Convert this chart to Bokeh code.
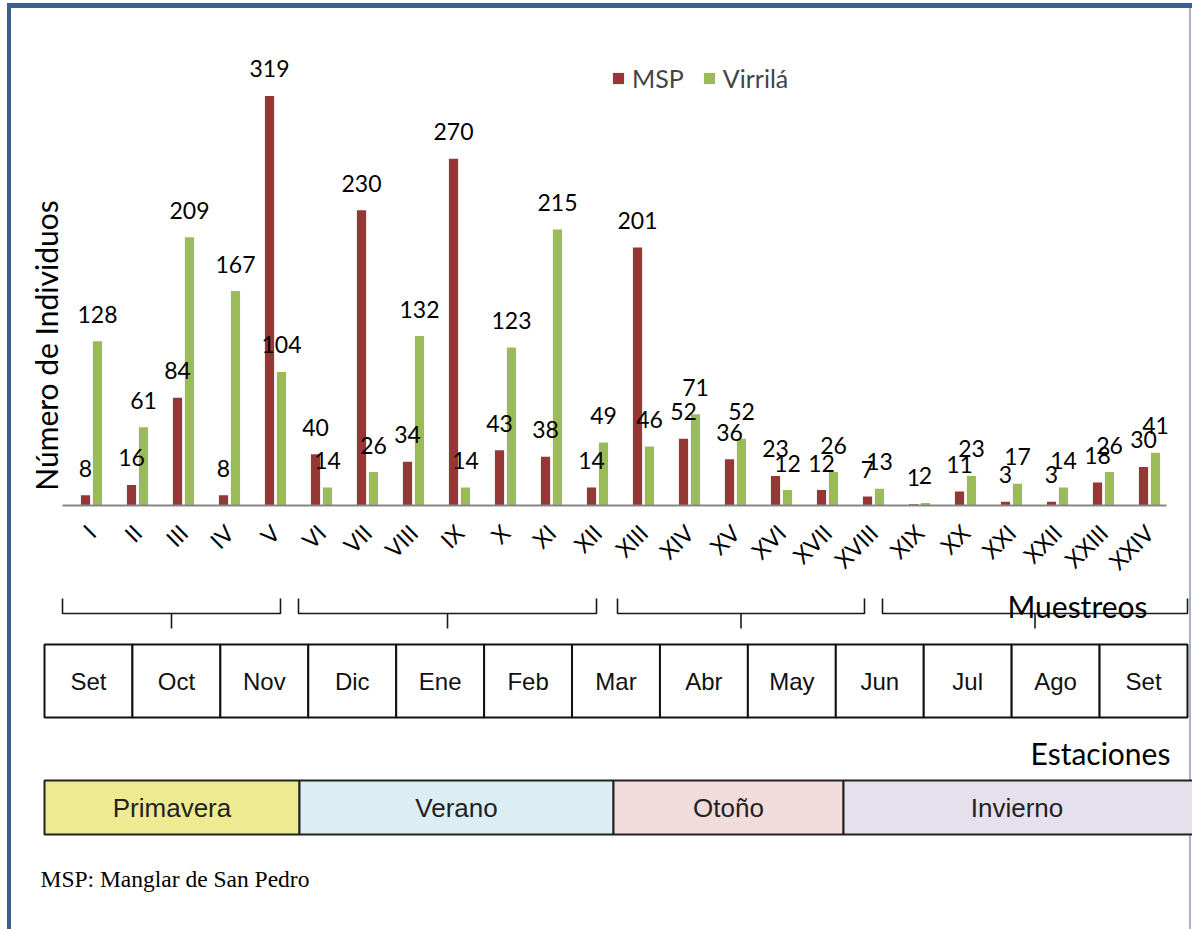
import math
from bokeh.plotting import figure
from bokeh.models import (Range1d, ColumnDataSource, Legend, LegendItem, Label,
                          LinearAxis, FixedTicker)
from bokeh.layouts import column
from bokeh.embed import file_html
from bokeh.resources import INLINE
from bokeh.core.properties import value

# ---------------- data ----------------
samples = ["I", "II", "III", "IV", "V", "VI", "VII", "VIII", "IX", "X", "XI", "XII",
           "XIII", "XIV", "XV", "XVI", "XVII", "XVIII", "XIX", "XX", "XXI", "XXII",
           "XXIII", "XXIV"]
msp = [8, 16, 84, 8, 319, 40, 230, 34, 270, 43, 38, 14,
       201, 52, 36, 23, 12, 7, 1, 11, 3, 3, 18, 30]
virrila = [128, 61, 209, 167, 104, 14, 26, 132, 14, 123, 215, 49,
           46, 71, 52, 12, 26, 13, 2, 23, 17, 14, 26, 41]
months = ["Set", "Oct", "Nov", "Dic", "Ene", "Feb", "Mar", "Abr", "May", "Jun",
          "Jul", "Ago", "Set"]
seasons = ["Primavera", "Verano", "Otoño", "Invierno"]

# ---------------- styles / layout ----------------
MSP_C = "#953735"
VIR_C = "#9BBB59"
SEASON_FILLS = ["#EEEA91", "#DBEEF3", "#F2DCDB", "#E5E0EC"]
LBL_FONT = "Lato"
BORDER_C = "#3C5F8D"

W = 1192
H = 929
HA = 587               # top figure height (page 0 .. 587)
HB = H - HA            # bottom figure height (page 587 .. 929)
BASE_Y = 505           # page y of the value axis baseline
AX_BOTTOM = HA - BASE_Y
CAT_X0 = 68            # page x where the first sample slot starts
CAT_W = 46             # px per sample slot
PX_PER_UNIT = 1.284    # px per individual
DODGE = 0.13
BAR_W = 0.2


def slot(px):
    return (px - CAT_X0) / CAT_W - 0.5


# ---------------- top figure: bars ----------------
idx = list(range(len(samples)))
src = ColumnDataSource(dict(
    x_msp=[i - DODGE for i in idx], x_vir=[i + DODGE for i in idx],
    msp=msp, virrila=virrila,
    msp_lbl=[str(v) for v in msp], vir_lbl=[str(v) for v in virrila]))

p = figure(x_range=Range1d(slot(0), slot(W)),
           y_range=Range1d(0, BASE_Y / PX_PER_UNIT), width=W, height=HA,
           output_backend="svg", toolbar_location=None,
           min_border_left=0, min_border_right=0, min_border_top=0,
           min_border_bottom=AX_BOTTOM, x_axis_location=None, y_axis_location=None,
           outline_line_color=None, background_fill_color=None,
           border_fill_color=None)
p.extra_x_ranges = {"px": Range1d(0, W)}
p.extra_y_ranges = {"px": Range1d(BASE_Y, 0)}
p.grid.visible = False

r1 = p.vbar(x="x_msp", top="msp", width=BAR_W, source=src,
            fill_color=MSP_C, line_color=None)
r2 = p.vbar(x="x_vir", top="virrila", width=BAR_W, source=src,
            fill_color=VIR_C, line_color=None)

p.text(x="x_msp", y="msp", text="msp_lbl", source=src, text_align="center",
       text_baseline="middle", y_offset=-27, text_font=value(LBL_FONT),
       text_font_size="23px", text_color="black")
p.text(x="x_vir", y="virrila", text="vir_lbl", source=src, text_align="center",
       text_baseline="middle", y_offset=-27, text_font=value(LBL_FONT),
       text_font_size="23px", text_color="black")

xa = LinearAxis(ticker=FixedTicker(ticks=idx),
                major_label_overrides={i: s for i, s in zip(idx, samples)},
                bounds=(slot(62), slot(1166)))
xa.major_label_orientation = math.pi / 4
xa.major_label_text_font = LBL_FONT
xa.major_label_text_font_size = "23px"
xa.major_label_text_color = "black"
xa.major_tick_line_color = None
xa.minor_tick_line_color = None
xa.axis_line_color = "#868686"
xa.axis_line_width = 2
xa.major_label_standoff = 17
p.add_layout(xa, "below")

legend = Legend(items=[LegendItem(label="MSP", renderers=[r1]),
                       LegendItem(label="Virrilá", renderers=[r2])],
                orientation="horizontal", location=(611, 412),
                glyph_width=14, glyph_height=14, label_standoff=7, spacing=18,
                padding=0, margin=0, border_line_color=None,
                background_fill_alpha=0,
                label_text_font=LBL_FONT, label_text_font_size="25px")
p.add_layout(legend)

p.add_layout(Label(x=45, y=345, x_range_name="px", y_range_name="px",
                   text="Número de Individuos", angle=math.pi / 2,
                   text_align="center", text_baseline="middle",
                   text_font=LBL_FONT, text_font_size="30px", text_color="black"))

# ---------------- bottom figure: brackets, months, seasons ----------------
q = figure(width=W, height=HB, x_range=Range1d(0, W), y_range=Range1d(H, HA),
           output_backend="svg", toolbar_location=None, min_border=0,
           x_axis_location=None, y_axis_location=None, outline_line_color=None,
           background_fill_color=None, border_fill_color=None)
q.grid.visible = False

# brackets over groups of samples
br_left = [62, 298, 617, 882]
br_right = [280, 596, 864, 1187]
br_top, br_mid, br_tip = 598, 613, 628
xs, ys = [], []
for a, b in zip(br_left, br_right):
    m = (a + b) / 2
    xs += [[a, a, b, b], [m, m]]
    ys += [[br_top, br_mid, br_mid, br_top], [br_mid, br_tip]]
q.multi_line(xs=xs, ys=ys, line_color="#1a1a1a", line_width=1.6)

# month table
m_left, m_right = 44, 1187
m_top, m_bot = 644, 717
mw = (m_right - m_left) / len(months)
ml = [m_left + i * mw for i in range(len(months))]
mr = [x + mw for x in ml]
q.quad(left=ml, right=mr, top=m_top, bottom=m_bot, fill_color="white",
       line_color="#111111", line_width=2)
q.text(x=[(a + b) / 2 for a, b in zip(ml, mr)], y=[(m_top + m_bot) / 2] * len(months),
       text=months, text_align="center", text_baseline="middle",
       text_font=value("Liberation Sans"), text_font_size="24px", text_color="#111111")

# season table
s_left = [44, 299, 613, 843]
s_right = [299, 613, 843, 1196]
s_top, s_bot = 780, 834
q.quad(left=s_left, right=s_right, top=s_top, bottom=s_bot, fill_color=SEASON_FILLS,
       line_color="#222222", line_width=2)
q.text(x=[(a + b) / 2 for a, b in zip(s_left, s_right[:3] + [1190])],
       y=[(s_top + s_bot) / 2] * 4, text=seasons, text_align="center",
       text_baseline="middle", text_font=value("Liberation Sans"),
       text_font_size="26px", text_color="#222222")

q.add_layout(Label(x=1077, y=605, text="Muestreos", text_align="center",
                   text_baseline="middle", text_font=LBL_FONT,
                   text_font_size="30px", text_color="black"))
q.add_layout(Label(x=1100, y=752, text="Estaciones", text_align="center",
                   text_baseline="middle", text_font=LBL_FONT,
                   text_font_size="30px", text_color="black"))
q.add_layout(Label(x=40, y=878, text="MSP: Manglar de San Pedro", text_align="left",
                   text_baseline="middle", text_font="Liberation Serif",
                   text_font_size="23.5px", text_color="black"))

bg = (f"linear-gradient({BORDER_C}, {BORDER_C}) 7px 3px / calc(100% - 7px) 5px no-repeat, "
      f"linear-gradient({BORDER_C}, {BORDER_C}) 7px 3px / 4px 100% no-repeat, "
      f"linear-gradient(#A7B4C6, #A7B4C6) right 1px top 3px / 2px 100% no-repeat, "
      f"#ffffff")
layout = column(p, q, spacing=0, styles={"background": bg})

open("out.html", "w").write(file_html(layout, INLINE))
